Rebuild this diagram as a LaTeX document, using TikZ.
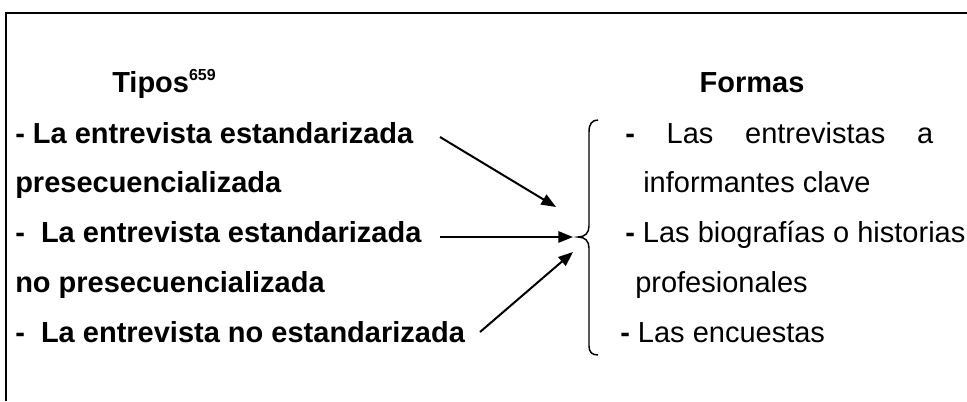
\documentclass[tikz,border=0pt]{standalone}
\usepackage{fontspec}
\setmainfont{Liberation Sans}
\usetikzlibrary{arrows.meta}

\begin{document}
\begin{tikzpicture}[x=0.75pt,y=-0.75pt,
  texto/.style={anchor=base west,inner sep=0pt,font=\fontsize{21.75}{26}\selectfont},
  negrita/.style={texto,font=\fontsize{21.75}{26}\selectfont\bfseries},
  flecha/.style={line width=1.5pt,-{Triangle[length=11pt,width=8.5pt]}}]
\useasboundingbox (0,0) rectangle (967,401);
\draw[line width=1.5pt] (6,401) -- (6,13) -- (967,13);
% tipos
\node[negrita] (tipos) at (112,92) {Tipos\raisebox{9pt}{\fontsize{12}{14}\selectfont 659}};
\node[negrita] (t1) at (15,143) {- La entrevista estandarizada};
\node[negrita] (t2) at (15,192) {presecuencializada};
\node[negrita] (t3) at (15,242) {- \ La entrevista estandarizada};
\node[negrita] (t4) at (15,292) {no presecuencializada};
\node[negrita] (t5) at (15,342) {- \ La entrevista no estandarizada};
% formas
\node[negrita,anchor=base] (formas) at (752,92) {Formas};
\node[texto] (f1) at (625,143) {\makebox[231pt][s]{\textbf{-} Las entrevistas a}};
\node[texto] (f2) at (643,192) {informantes clave};
\node[texto] (f3) at (625,242) {\textbf{-} Las biografías o historias};
\node[texto] (f4) at (635,292) {profesionales};
\node[texto] (f5) at (620,342) {\textbf{-} Las encuestas};
% llave
\draw[line width=1.1pt] (598,120) .. controls (592,120) and (589,124) .. (589,132)
  -- (589,226) .. controls (589,233) and (585,237) .. (578,237)
  .. controls (585,237) and (589,241) .. (589,248)
  -- (589,346) .. controls (589,352) and (592,355) .. (598,355);
% flechas
\coordinate (d1) at (440,137);
\coordinate (h1) at (556,207);
\coordinate (d2) at (440,237);
\coordinate (h2) at (573,237);
\coordinate (d3) at (480,332);
\coordinate (h3) at (573,252);
\draw[flecha] (d1) -- (h1);
\draw[flecha] (d2) -- (h2);
\draw[flecha] (d3) -- (h3);
\end{tikzpicture}
\end{document}
